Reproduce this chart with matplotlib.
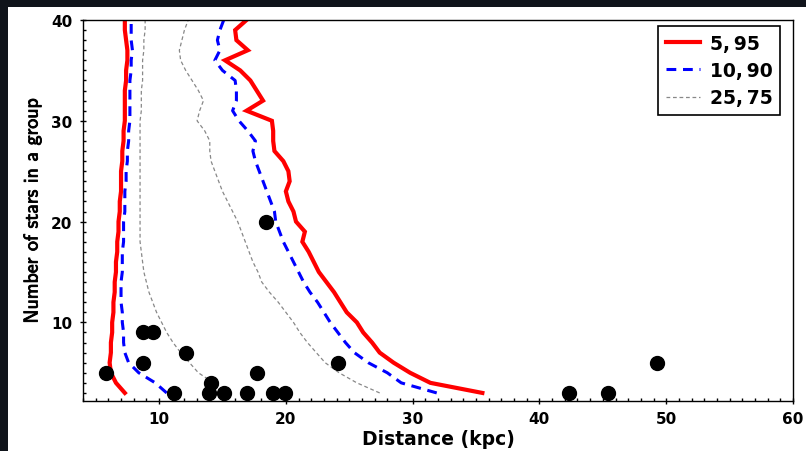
import matplotlib
matplotlib.use("Agg")
import matplotlib.pyplot as plt
import matplotlib.patheffects as pe
from matplotlib.patches import Rectangle
from matplotlib.ticker import MultipleLocator

# number of stars in a group
n_stars = list(range(3, 41))

# percentile curves of distance (kpc), one value per group size 3..40
p05 = [7.3, 6.6, 6.2, 6.1, 6.2, 6.2, 6.3, 6.3, 6.4, 6.4, 6.5, 6.5, 6.6, 6.6, 6.7, 6.7,
       6.8, 6.8, 6.9, 6.9, 7.0, 7.0, 7.0, 7.1, 7.1, 7.2, 7.2, 7.3, 7.3, 7.3, 7.3, 7.4,
       7.4, 7.5, 7.5, 7.4, 7.3, 7.3]
p95 = [35.5, 31.4, 29.8, 28.5, 27.4, 26.8, 26.1, 25.6, 24.8, 24.3, 23.8, 23.2, 22.6, 22.2,
       21.8, 21.3, 21.5, 20.8, 20.6, 20.2, 20.0, 20.3, 20.2, 19.8, 19.1, 19.0, 19.0, 18.9,
       16.9, 18.2, 17.7, 17.2, 16.4, 15.2, 17.0, 16.1, 16.0, 16.9]
p10 = [10.6, 9.7, 8.4, 7.6, 7.3, 7.2, 7.2, 7.1, 7.1, 7.0, 7.0, 7.0, 7.1, 7.1, 7.1, 7.2,
       7.2, 7.2, 7.3, 7.3, 7.3, 7.4, 7.4, 7.5, 7.5, 7.6, 7.6, 7.7, 7.7, 7.7, 7.7, 7.7,
       7.8, 7.8, 7.9, 7.8, 7.8, 7.8]
p90 = [31.9, 29.1, 28.0, 26.5, 25.4, 24.7, 24.1, 23.5, 23.0, 22.5, 21.9, 21.4, 21.0, 20.6,
       20.2, 19.8, 19.5, 19.2, 19.1, 18.8, 18.5, 18.2, 17.9, 17.6, 17.4, 17.6, 17.0, 16.3,
       15.8, 16.1, 16.1, 16.0, 15.0, 14.4, 14.8, 14.6, 14.8, 15.1]
p25 = [15.6, 14.3, 13.1, 12.4, 11.7, 11.1, 10.6, 10.2, 9.8, 9.5, 9.2, 9.0, 8.8, 8.7,
       8.6, 8.5, 8.5, 8.5, 8.5, 8.5, 8.5, 8.5, 8.5, 8.5, 8.5, 8.5, 8.5, 8.5, 8.6, 8.6,
       8.6, 8.7, 8.7, 8.7, 8.8, 8.8, 8.9, 8.9]
p75 = [27.4, 25.6, 24.2, 23.1, 22.4, 21.7, 21.1, 20.6, 20.0, 19.4, 18.7, 18.1, 17.8, 17.4,
       17.1, 16.8, 16.5, 16.2, 15.8, 15.4, 15.0, 14.7, 14.4, 14.1, 14.0, 14.0, 13.6, 13.0,
       13.2, 13.5, 13.1, 12.6, 12.1, 11.7, 11.6, 11.8, 12.0, 12.3]

# observed groups
obs_dist = [5.8, 8.75, 9.5, 8.75, 12.1, 11.2, 14.1, 13.9, 15.1, 16.9, 17.7, 19.0, 19.9,
            18.4, 24.1, 42.35, 45.4, 49.3]
obs_n = [5, 9, 9, 6, 7, 3, 4, 3, 3, 3, 5, 3, 3, 20, 6, 3, 3, 6]

fig = plt.figure(figsize=(8.06, 4.52), dpi=100, facecolor="#10141b")
fig.patches.append(Rectangle((8 / 806, 0), 1, 444 / 452, transform=fig.transFigure,
                             facecolor="white", edgecolor="none", zorder=-1))
ax = fig.add_axes([83 / 806, 50 / 452, 710 / 806, 381 / 452])

ax.plot(p05, n_stars, color="red", lw=3, solid_joinstyle="miter", label="5,\u200995")
ax.plot(p95, n_stars, color="red", lw=3, solid_joinstyle="miter")
ax.plot(p10, n_stars, color="blue", lw=2.2, ls=(0, (3.2, 2.2)), label="10,\u200990")
ax.plot(p90, n_stars, color="blue", lw=2.2, ls=(0, (3.2, 2.2)))
ax.plot(p25, n_stars, color="#888888", lw=0.9, ls=(0, (3, 2.2)), label="25,\u200975")
ax.plot(p75, n_stars, color="#888888", lw=0.9, ls=(0, (3, 2.2)))
ax.plot(obs_dist, obs_n, "o", color="black", ms=10, ls="none", clip_on=False, zorder=5)

ax.set_xlim(4, 60)
ax.set_ylim(2.2, 40)
ax.xaxis.set_major_locator(MultipleLocator(10))
ax.xaxis.set_minor_locator(MultipleLocator(1))
ax.yaxis.set_major_locator(MultipleLocator(10))
ax.yaxis.set_minor_locator(MultipleLocator(1))
ax.tick_params(which="major", direction="inout", length=5, width=1, labelsize=11, pad=5)
ax.tick_params(which="minor", direction="in", length=2.5, width=1)
for lab in ax.get_xticklabels() + ax.get_yticklabels():
    lab.set_fontweight("bold")
for sp in ax.spines.values():
    sp.set_linewidth(1)

ax.set_xlabel("Distance (kpc)", fontsize=13.5, fontweight="bold", labelpad=2)
ax.set_ylabel("Number of stars in a group", family="cmss10", fontsize=14.3, labelpad=7,
              path_effects=[pe.withStroke(linewidth=0.6, foreground="black")])

leg = ax.legend(loc="upper right", bbox_to_anchor=(0.982, 0.984), borderaxespad=0,
                prop={"weight": "bold", "size": 13.5},
                fancybox=False, edgecolor="black", framealpha=1,
                handlelength=1.8, handletextpad=0.55, labelspacing=0.45)
leg.get_frame().set_linewidth(1.2)

fig.savefig("out.png", dpi=100, facecolor=fig.get_facecolor())
